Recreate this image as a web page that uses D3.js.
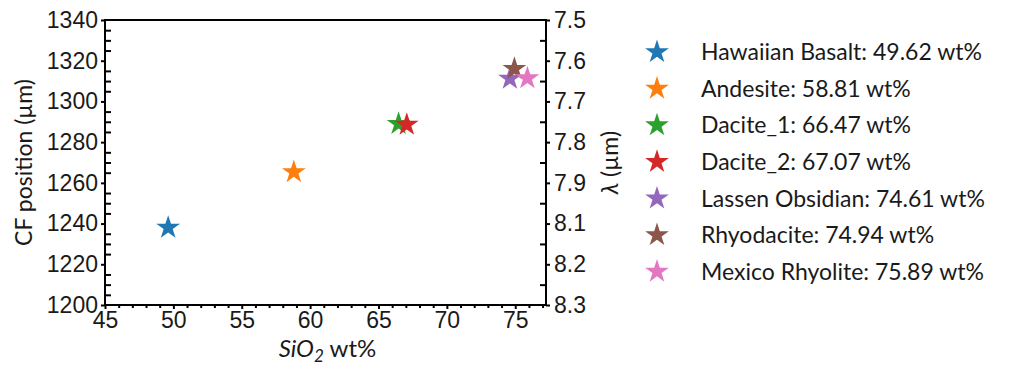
<!DOCTYPE html>
<html>
<head>
<meta charset="utf-8">
<script src="https://cdn.jsdelivr.net/npm/d3@7"></script>
<style>
  body { margin: 0; background: #fff; }
  svg { display: block; font-family: Lato, 'Noto Sans', sans-serif; }
  .axis path, .axis line { stroke: #000; stroke-width: 2; }
  .axis text { fill: #1a1a1a; }
</style>
</head>
<body>
<div id="chart"></div>
<script>
// samples, SiO2 content and CF position
const sampleNames = ['Hawaiian Basalt', 'Andesite', 'Dacite_1', 'Dacite_2',
  'Lassen Obsidian', 'Rhyodacite', 'Mexico Rhyolite'];
const sio2 = [49.62, 58.81, 66.47, 67.07, 74.61, 74.94, 75.89];
const cfPosition = [1238, 1265.3, 1289, 1288.6, 1311.2, 1316, 1311.4];
const sampleColors = ['#1f77b4', '#ff7f0e', '#2ca02c', '#d62728', '#9467bd', '#8c564b', '#e377c2'];

// tick labels
const xTicks = [45, 50, 55, 60, 65, 70, 75];
const yTicks = [1200, 1220, 1240, 1260, 1280, 1300, 1320, 1340];
const lambdaLabels = ['7.5', '7.6', '7.7', '7.8', '7.9', '8.1', '8.2', '8.3'];

const width = 1012, height = 368;
const margin = {top: 20, right: 466, bottom: 63, left: 105};
const w = width - margin.left - margin.right;
const h = height - margin.top - margin.bottom;

const svg = d3.select('#chart')
  .append('svg')
  .attr('width', width)
  .attr('height', height);

const g = svg.append('g')
  .attr('transform', `translate(${margin.left},${margin.top})`);

const x = d3.scaleLinear().domain([45, 77.25]).range([0, w]);
const y = d3.scaleLinear().domain([1200, 1340]).range([h, 0]);
// right axis just spaces its labels evenly
const yr = d3.scaleLinear().domain([0, lambdaLabels.length - 1]).range([0, h]);

const fontSize = 23;

// bottom axis: minor then major
g.append('g')
  .attr('class', 'axis')
  .attr('transform', `translate(0,${h})`)
  .call(d3.axisBottom(x).tickValues(d3.range(45, 78, 1).filter(v => v % 5 !== 0))
    .tickSize(3).tickSizeOuter(0).tickFormat(''))
  .call(g => g.select('.domain').remove())
  .selectAll('line').attr('stroke-width', 1.5);

g.append('g')
  .attr('class', 'axis')
  .attr('transform', `translate(0,${h})`)
  .call(d3.axisBottom(x).tickValues(xTicks).tickFormat(d3.format('d'))
    .tickSize(4).tickSizeOuter(0).tickPadding(3))
  .call(g => g.selectAll('text').attr('font-size', fontSize))
  .call(g => g.select('.domain').remove());

// left axis
g.append('g')
  .attr('class', 'axis')
  .call(d3.axisLeft(y).tickValues(d3.range(1205, 1340, 5).filter(v => v % 20 !== 0))
    .tickSize(-6).tickSizeOuter(0).tickFormat(''))
  .call(g => g.select('.domain').remove());

g.append('g')
  .attr('class', 'axis')
  .call(d3.axisLeft(y).tickValues(yTicks).tickFormat(d3.format('d'))
    .tickSize(4).tickSizeOuter(0).tickPadding(3))
  .call(g => g.selectAll('text').attr('font-size', fontSize))
  .call(g => g.select('.domain').remove());

// right axis
g.append('g')
  .attr('class', 'axis')
  .attr('transform', `translate(${w},0)`)
  .call(d3.axisRight(yr).tickValues(d3.range(0.5, lambdaLabels.length - 1, 1))
    .tickSize(-6).tickSizeOuter(0).tickFormat(''))
  .call(g => g.select('.domain').remove());

g.append('g')
  .attr('class', 'axis')
  .attr('transform', `translate(${w},0)`)
  .call(d3.axisRight(yr).tickValues(d3.range(lambdaLabels.length))
    .tickFormat(i => lambdaLabels[i]).tickSize(4).tickSizeOuter(0).tickPadding(4))
  .call(g => g.selectAll('text').attr('font-size', fontSize))
  .call(g => g.select('.domain').remove());

// frame
g.append('rect')
  .attr('width', w)
  .attr('height', h)
  .attr('fill', 'none')
  .attr('stroke', '#000')
  .attr('stroke-width', 2);

const star = d3.symbol().type(d3.symbolStar).size(175);

g.append('g')
  .selectAll('path')
  .data(sio2)
  .join('path')
  .attr('d', star)
  .attr('fill', (d, i) => sampleColors[i])
  .attr('transform', (d, i) => `translate(${x(d)},${y(cfPosition[i])})`);

// axis titles
svg.append('text')
  .attr('transform', `translate(32,${margin.top + h / 2}) rotate(-90)`)
  .attr('text-anchor', 'middle')
  .attr('font-size', fontSize)
  .attr('fill', '#1a1a1a')
  .text('CF position (µm)');

const xl = svg.append('text')
  .attr('x', margin.left + w / 2 + 2)
  .attr('y', 357)
  .attr('text-anchor', 'middle')
  .attr('font-size', 24)
  .attr('fill', '#1a1a1a');
xl.append('tspan').attr('font-style', 'italic').text('SiO');
xl.append('tspan').attr('font-style', 'italic').attr('font-size', 17).attr('dy', 5).text('2');
xl.append('tspan').attr('dy', -5).text(' wt%');

const rl = svg.append('text')
  .attr('transform', `translate(618,${margin.top + h / 2}) rotate(-90)`)
  .attr('text-anchor', 'middle')
  .attr('font-size', fontSize)
  .attr('fill', '#1a1a1a');
rl.append('tspan').attr('font-style', 'italic').text('λ');
rl.append('tspan').text(' (µm)');

// legend
const legend = svg.append('g')
  .attr('transform', 'translate(657,52)');

const rows = legend.selectAll('g')
  .data(sampleNames)
  .join('g')
  .attr('transform', (d, i) => `translate(0,${i * 36.6})`);

rows.append('path')
  .attr('d', star)
  .attr('fill', (d, i) => sampleColors[i]);

rows.append('text')
  .attr('x', 44)
  .attr('dy', '0.36em')
  .attr('font-size', fontSize)
  .attr('fill', '#1a1a1a')
  .text((d, i) => `${d}: ${sio2[i].toFixed(2)} wt%`);
</script>
</body>
</html>
